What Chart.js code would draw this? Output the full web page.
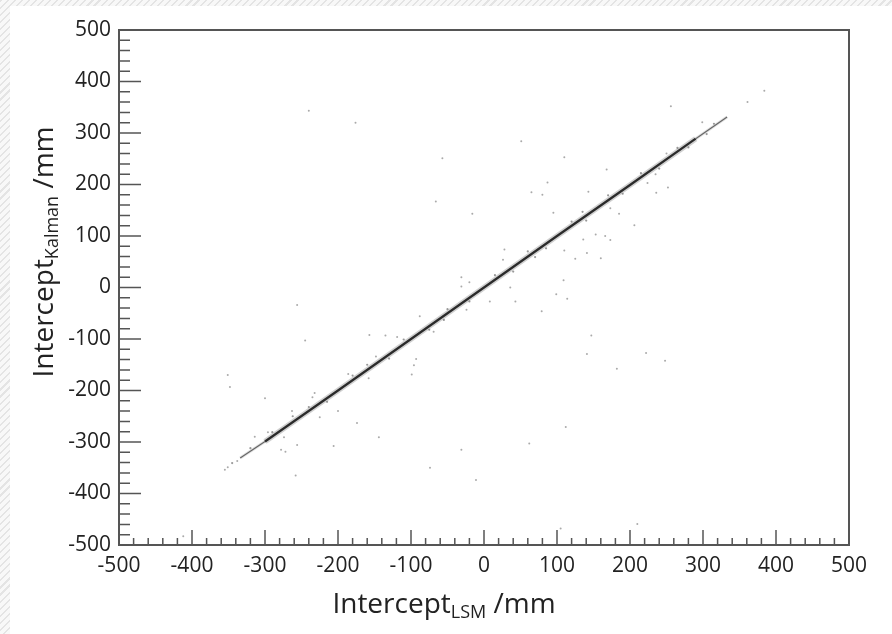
<!DOCTYPE html>
<html>
<head>
<meta charset="utf-8">
<title>Intercept Kalman vs LSM</title>
<script src="https://cdn.jsdelivr.net/npm/chart.js@4/dist/chart.umd.min.js"></script>
<style>
  html, body { margin: 0; padding: 0; }
  #wrap {
    position: relative;
    width: 892px;
    height: 634px;
    background: repeating-linear-gradient(135deg, #e4e4e4 0 1.5px, #f8f8f8 1.5px 5px);
  }
  #paper {
    position: absolute;
    left: 10px; top: 6px; right: 0; bottom: 0;
    background: #fff;
  }
  #plot { position: absolute; left: 0; top: 0; }
</style>
</head>
<body>
<div id="wrap">
  <div id="paper"></div>
  <canvas id="plot" width="892" height="634"></canvas>
</div>
<script>
// dense band of tracks where both fits agree
const coreX = [-334, -300, -200, -100, 0, 100, 200, 290, 333];
const coreY = [-331, -299, -200, -100, 0, 100, 199, 289, 331];

// points scattered just around the band
const fuzzX = [-345, -320, -290, -262, -240, -215, -180, -160, -130, -110, -75, -55, -50, -20, 15, 40, 60, 70, 85, 120, 135, 140, 170, 190, 215, 240, 265, 280, 305, 315];
const fuzzY = [-341, -312, -281, -250, -232, -222, -171, -150, -138, -101, -82, -63, -42, -27, 24, 31, 70, 59, 76, 128, 147, 130, 179, 182, 222, 231, 271, 272, 298, 318];

// tracks where the two fits disagree
const outX = [-240, -176, 51, -57, 110, 87, 65, 80, -66, -16, 95, 143, 168, 28, 26, -31, -20, 109, 136, 153, 141, 160, 125, 110,
  384, 361, 256, 299, 250, 252, 236, 224, 206, 185, 173, 173, 166, 235,
  -256, -245, -351, -348, -300, -263, -225, -200, -174, -232, -235, -314, -296, -274, -278, -272, -256, -258, -206, -186, -412, -355, -351, -338,
  -157, -135, -119, -88, -93, -96, -99, -158, -148, -69, -24, 8, 43, 36, 79, 99, 114, 147, 141, -31, -144, -31, -74, -11, 62, 112, 105,
  182, 222, 248, 210];
const outY = [343, 320, 284, 251, 253, 204, 185, 180, 167, 143, 145, 186, 229, 74, 54, 20, 10, 14, 93, 103, 67, 57, 56, 72,
  382, 360, 352, 321, 260, 194, 184, 203, 121, 143, 154, 92, 100, 220,
  -34, -103, -170, -193, -215, -240, -252, -240, -263, -205, -213, -290, -281, -291, -315, -319, -306, -365, -308, -168, -483, -354, -349, -337,
  -92, -93, -96, -56, -139, -151, -169, -176, -134, -86, -43, -27, -27, 0, -46, -13, -22, -93, -129, 2, -291, -315, -350, -374, -303, -271, -468,
  -158, -127, -142, -459];

const axisMin = -500, axisMax = 500;
const majorStep = 100, minorStep = 20;

const toXY = (xs, ys) => xs.map((x, i) => ({ x: x, y: ys[i] }));
const isEnd = c => c.p0DataIndex === 0 || c.p1DataIndex === coreX.length - 1;

const FONT = "'Open Sans', 'DejaVu Sans', sans-serif";
const INK = '#222';
const FRAME = '#555';

// ROOT-like frame: inward major/minor ticks on the left and bottom edges
const rootFrame = {
  id: 'rootFrame',
  afterDatasetsDraw(chart) {
    const { ctx, chartArea: a } = chart;
    const xs = chart.scales.x, ys = chart.scales.y;
    ctx.save();
    ctx.strokeStyle = FRAME;
    ctx.lineWidth = 1.5;
    ctx.beginPath();
    for (let v = axisMin; v <= axisMax; v += minorStep) {
      const major = v % majorStep === 0;
      const px = xs.getPixelForValue(v);
      ctx.moveTo(px, a.bottom);
      ctx.lineTo(px, a.bottom - (major ? 15 : 7));
      const py = ys.getPixelForValue(v);
      ctx.moveTo(a.left, py);
      ctx.lineTo(a.left + (major ? 22 : 11), py);
    }
    ctx.stroke();
    ctx.lineWidth = 2;
    ctx.strokeRect(a.left, a.top, a.right - a.left, a.bottom - a.top);
    ctx.restore();
  }
};

// axis titles with subscripts
function drawTitle(ctx, parts) {
  let x = 0;
  parts.forEach(p => {
    ctx.font = p.size + 'px ' + FONT;
    ctx.fillText(p.text, x, p.shift || 0);
    x += ctx.measureText(p.text).width;
  });
}
function titleWidth(ctx, parts) {
  let w = 0;
  parts.forEach(p => {
    ctx.font = p.size + 'px ' + FONT;
    w += ctx.measureText(p.text).width;
  });
  return w;
}

const xTitle = [{ text: 'Intercept', size: 28 }, { text: 'LSM', size: 18, shift: 5 }, { text: ' /mm', size: 28 }];
const yTitle = [{ text: 'Intercept', size: 28 }, { text: 'Kalman', size: 18, shift: 5 }, { text: ' /mm', size: 28 }];

const axisTitles = {
  id: 'axisTitles',
  afterDraw(chart) {
    const ctx = chart.ctx;
    ctx.save();
    ctx.fillStyle = INK;
    ctx.textBaseline = 'alphabetic';
    ctx.textAlign = 'left';
    const wx = titleWidth(ctx, xTitle);
    ctx.translate(444 - wx / 2, 613);
    drawTitle(ctx, xTitle);
    ctx.restore();

    ctx.save();
    ctx.fillStyle = INK;
    const wy = titleWidth(ctx, yTitle);
    ctx.translate(53, 252 + wy / 2);
    ctx.rotate(-Math.PI / 2);
    drawTitle(ctx, yTitle);
    ctx.restore();
  }
};

const tickOpts = {
  stepSize: majorStep,
  color: INK,
  font: { family: FONT, size: 21 },
  autoSkip: false,
  maxRotation: 0
};

new Chart(document.getElementById('plot'), {
  type: 'scatter',
  data: {
    datasets: [
      {
        label: 'band',
        data: toXY(coreX, coreY),
        showLine: true,
        pointRadius: 0,
        borderColor: '#2b2b2b',
        borderWidth: 2.2,
        segment: {
          borderWidth: c => isEnd(c) ? 1.2 : 2.2,
          borderColor: c => isEnd(c) ? '#666' : '#2b2b2b'
        }
      },
      {
        label: 'band halo',
        data: toXY(coreX, coreY),
        showLine: true,
        pointRadius: 0,
        borderColor: 'rgba(120,120,120,0.35)',
        borderWidth: 5,
        segment: {
          borderWidth: c => isEnd(c) ? 3 : 5.5,
          borderColor: c => isEnd(c) ? 'rgba(140,140,140,0.25)' : 'rgba(120,120,120,0.35)'
        }
      },
      {
        label: 'near',
        data: toXY(fuzzX, fuzzY),
        pointRadius: 1.1,
        pointBorderWidth: 0,
        backgroundColor: 'rgba(70,70,70,0.55)'
      },
      {
        label: 'outliers',
        data: toXY(outX, outY),
        pointRadius: 1,
        pointBorderWidth: 0,
        backgroundColor: 'rgba(100,100,100,0.55)'
      }
    ]
  },
  options: {
    responsive: false,
    animation: false,
    devicePixelRatio: 1,
    layout: { padding: { left: 0, top: 30, right: 43, bottom: 0 } },
    plugins: {
      legend: { display: false },
      tooltip: { enabled: false }
    },
    scales: {
      x: {
        type: 'linear',
        min: axisMin,
        max: axisMax,
        grid: { display: false, drawTicks: false },
        border: { display: false },
        ticks: Object.assign({ padding: 8 }, tickOpts),
        afterFit(s) { s.height = 89; }
      },
      y: {
        type: 'linear',
        min: axisMin,
        max: axisMax,
        grid: { display: false, drawTicks: false },
        border: { display: false },
        ticks: Object.assign({ padding: 8 }, tickOpts),
        afterFit(s) { s.width = 119; }
      }
    }
  },
  plugins: [rootFrame, axisTitles]
});
</script>
</body>
</html>
